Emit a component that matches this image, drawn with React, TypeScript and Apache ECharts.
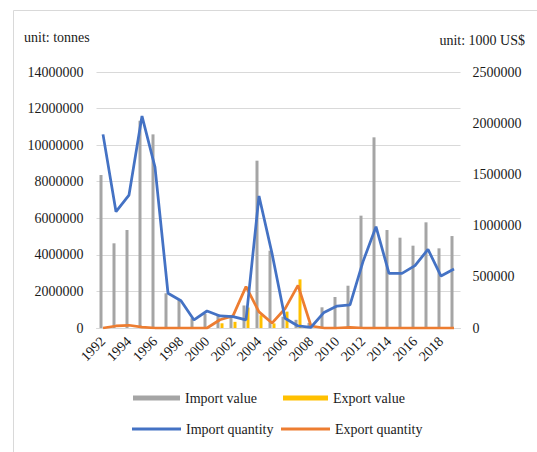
import React, { useEffect, useRef } from "react";
import * as echarts from "echarts";

const years = [
  "1992","1993","1994","1995","1996","1997","1998","1999","2000","2001",
  "2002","2003","2004","2005","2006","2007","2008","2009","2010","2011",
  "2012","2013","2014","2015","2016","2017","2018","2019",
];

// unit: 1000 US$ (right axis)
const importValue = [
  1494000, 827000, 957000, 2024000, 1891000, 339000, 273000, 95000, 137000, 137000,
  110000, 220000, 1634000, 755000, 110000, 80000, 50000, 202000, 303000, 413000,
  1097000, 1862000, 957000, 882000, 804000, 1032000, 778000, 898000,
];
const exportValue = [
  0, 0, 0, 0, 0, 0, 0, 0, 0, 46000,
  60000, 200000, 125000, 45000, 160000, 475000, 0, 0, 0, 0,
  0, 0, 0, 0, 0, 0, 0, 0,
];

// unit: tonnes (left axis)
const importQuantity = [
  10590000, 6360000, 7270000, 11590000, 8800000, 1900000, 1490000, 440000, 930000, 660000,
  620000, 440000, 7220000, 4080000, 530000, 110000, 40000, 850000, 1200000, 1260000,
  3630000, 5540000, 2990000, 2990000, 3410000, 4300000, 2840000, 3230000,
];
const exportQuantity = [
  0, 110000, 150000, 50000, 0, 0, 0, 0, 0, 450000,
  660000, 2260000, 880000, 270000, 1050000, 2330000, 110000, 0, 0, 30000,
  0, 0, 0, 0, 0, 0, 0, 0,
];

const FONT = "'Liberation Serif', 'Times New Roman', serif";
const TXT = "#1a1a1a";

export default function App() {
  const ref = useRef<HTMLDivElement>(null);
  useEffect(() => {
    if (!ref.current) return;
    const chart = echarts.init(ref.current, undefined, { renderer: "svg" });
    const legendBase = {
      orient: "horizontal",
      padding: 0,
      itemGap: 0,
      selectedMode: false,
      textStyle: { fontFamily: FONT, fontSize: 14, color: TXT },
    };
    const plain = (v: number) => String(v);
    chart.setOption({
      animation: false,
      backgroundColor: "#ffffff",
      textStyle: { fontFamily: FONT },
      grid: { left: 96.5, right: 76.5, top: 72, bottom: 124, containLabel: false },
      xAxis: {
        type: "category",
        data: years,
        boundaryGap: true,
        axisLine: { show: true, lineStyle: { color: "#d9d9d9", width: 1 } },
        axisTick: { show: false },
        axisLabel: {
          interval: 1,
          rotate: 45,
          margin: 11,
          fontFamily: FONT,
          fontSize: 14,
          color: TXT,
        },
      },
      yAxis: [
        {
          type: "value",
          min: 0,
          max: 14000000,
          interval: 2000000,
          position: "left",
          axisLine: { show: false },
          axisTick: { show: false },
          splitLine: { show: true, lineStyle: { color: "#d9d9d9", width: 1 } },
          axisLabel: { margin: 13, fontFamily: FONT, fontSize: 14, color: TXT, formatter: plain },
        },
        {
          type: "value",
          min: 0,
          max: 2500000,
          interval: 500000,
          position: "right",
          axisLine: { show: false },
          axisTick: { show: false },
          splitLine: { show: false },
          axisLabel: { margin: 12, fontFamily: FONT, fontSize: 14, color: TXT, formatter: plain },
        },
      ],
      legend: [
        { ...legendBase, data: [{ name: "Import value", icon: "rect" }], left: 133, top: 391, itemWidth: 47, itemHeight: 5 },
        { ...legendBase, data: [{ name: "Export value", icon: "rect" }], left: 283, top: 391, itemWidth: 45, itemHeight: 5 },
        { ...legendBase, data: [{ name: "Import quantity", icon: "rect" }], left: 132, top: 422, itemWidth: 49, itemHeight: 3 },
        { ...legendBase, data: [{ name: "Export quantity", icon: "rect" }], left: 281, top: 422, itemWidth: 49, itemHeight: 3 },
      ],
      graphic: [
        {
          type: "rect",
          left: 11,
          top: 8,
          shape: { width: 700, height: 700 },
          style: { fill: "none", stroke: "#d9d9d9", lineWidth: 1 },
          silent: true,
        },
        {
          type: "text",
          left: 24,
          top: 30,
          style: { text: "unit: tonnes", font: `14px ${FONT}`, fill: TXT },
        },
        {
          type: "text",
          right: 12,
          top: 33,
          style: { text: "unit: 1000 US$", font: `14px ${FONT}`, fill: TXT },
        },
      ],
      series: [
        {
          name: "Import value",
          type: "bar",
          yAxisIndex: 1,
          data: importValue,
          barWidth: 3,
          barGap: "33%",
          itemStyle: { color: "#a5a5a5" },
          z: 2,
        },
        {
          name: "Export value",
          type: "bar",
          yAxisIndex: 1,
          data: exportValue,
          barWidth: 3,
          barGap: "33%",
          itemStyle: { color: "#ffc000" },
          z: 2,
        },
        {
          name: "Import quantity",
          type: "line",
          yAxisIndex: 0,
          data: importQuantity,
          symbol: "none",
          lineStyle: { color: "#4472c4", width: 2.75 },
          itemStyle: { color: "#4472c4" },
          z: 4,
        },
        {
          name: "Export quantity",
          type: "line",
          yAxisIndex: 0,
          data: exportQuantity,
          symbol: "none",
          lineStyle: { color: "#ed7d31", width: 2.75 },
          itemStyle: { color: "#ed7d31" },
          z: 3,
        },
      ],
    });
    return () => chart.dispose();
  }, []);
  return (
    <div
      ref={ref}
      style={{ position: "fixed", left: 0, top: 0, width: 537, height: 452, background: "#fff" }}
    />
  );
}
